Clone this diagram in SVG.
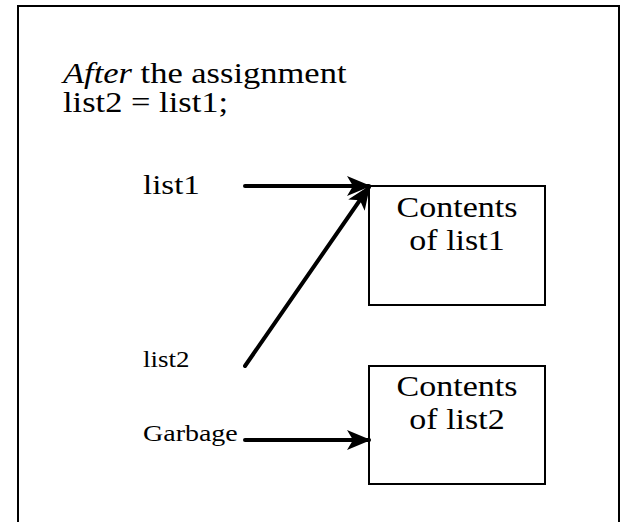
<svg xmlns="http://www.w3.org/2000/svg" width="623" height="522" viewBox="0 0 623 522">
<style>
.t{font-family:"Liberation Serif","Times New Roman",serif;fill:#000}
.m{text-anchor:middle}
.box{fill:#fff;stroke:#000;stroke-width:2}
.c{stroke:#000;stroke-width:4;fill:none;stroke-linecap:round}
</style>
<defs>
<marker id="ah" markerUnits="userSpaceOnUse" markerWidth="24" markerHeight="20" refX="22" refY="10" orient="auto" viewBox="0 0 24 20">
<path d="M0,0 L24,10 L0,20 L6,10 z" fill="#000"/>
</marker>
</defs>
<rect width="623" height="522" fill="#fff"/>
<rect x="18" y="6" width="601" height="540" fill="none" stroke="#000" stroke-width="2"/>
<g id="title">
<text class="t" transform="translate(63,83) scale(1,0.85)" font-size="34.5"><tspan font-style="italic">After</tspan> the assignment</text>
<text class="t" transform="translate(63,112) scale(1,0.85)" font-size="34.5">list2 = list1;</text>
</g>
<g id="list1"><text class="t" transform="translate(143,194) scale(1,0.85)" font-size="33">list1</text></g>
<g id="list2"><text class="t" transform="translate(143,367) scale(1,0.85)" font-size="27">list2</text></g>
<g id="garbage"><text class="t" transform="translate(143,441) scale(1,0.85)" font-size="28">Garbage</text></g>
<g id="box1">
<rect class="box" x="369" y="186" width="176" height="119"/>
<text class="t m" transform="translate(457,217) scale(1,0.85)" font-size="34">Contents</text>
<text class="t m" transform="translate(457,250) scale(1,0.85)" font-size="34">of list1</text>
</g>
<g id="box2">
<rect class="box" x="369" y="366" width="176" height="118"/>
<text class="t m" transform="translate(457,396) scale(1,0.85)" font-size="34">Contents</text>
<text class="t m" transform="translate(457,429) scale(1,0.85)" font-size="34">of list2</text>
</g>
<g id="connectors">
<line class="c" x1="245" y1="186" x2="369" y2="186" marker-end="url(#ah)"/>
<line class="c" x1="245" y1="366" x2="369" y2="187" marker-end="url(#ah)"/>
<line class="c" x1="245" y1="440" x2="369" y2="440" marker-end="url(#ah)"/>
</g>
</svg>
